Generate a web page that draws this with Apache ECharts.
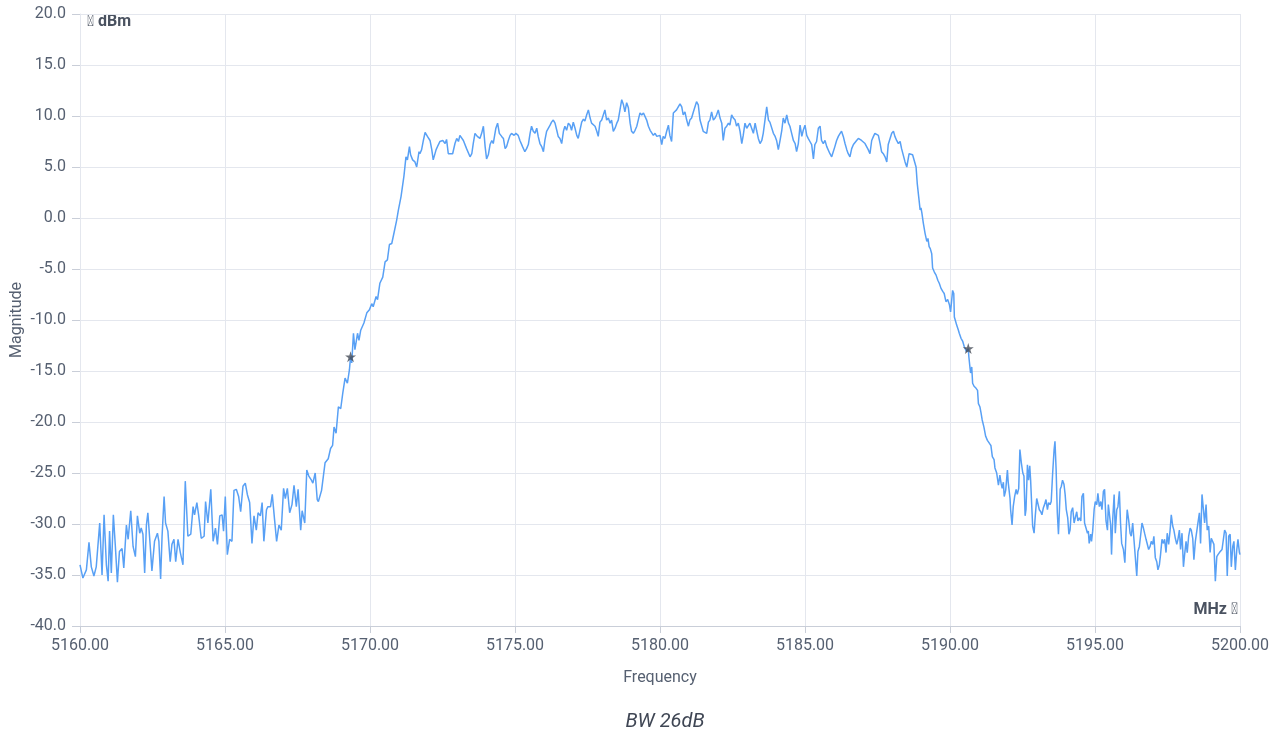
<!DOCTYPE html>
<html>
<head>
<meta charset="utf-8">
<script src="https://cdn.jsdelivr.net/npm/echarts@6/dist/echarts.min.js"></script>
<style>
html,body{margin:0;padding:0;background:#fff;}
#chart{width:1279px;height:733px;}
</style>
</head>
<body>
<div id="chart"></div>
<script>
// Spectrum trace: [frequency MHz, magnitude dBm]
const trace = [
[5160.00,-34.0],[5160.10,-35.3],[5160.22,-34.5],[5160.31,-31.8],[5160.39,-34.2],[5160.48,-35.1],[5160.56,-34.2],[5160.68,-29.9],[5160.76,-35.0],[5160.83,-29.1],
[5160.91,-34.0],[5160.97,-35.6],[5161.02,-30.7],[5161.08,-34.8],[5161.15,-29.1],[5161.22,-32.2],[5161.29,-35.7],[5161.36,-32.7],[5161.45,-32.4],[5161.51,-34.3],
[5161.60,-30.1],[5161.66,-31.5],[5161.75,-28.7],[5161.83,-32.2],[5161.91,-33.2],[5161.98,-29.2],[5162.06,-30.9],[5162.11,-30.4],[5162.17,-31.0],[5162.23,-34.8],
[5162.29,-30.1],[5162.34,-28.9],[5162.43,-32.5],[5162.48,-34.6],[5162.57,-31.7],[5162.67,-30.9],[5162.72,-31.7],[5162.78,-35.4],[5162.83,-31.2],[5162.90,-27.3],
[5162.95,-29.9],[5163.03,-30.7],[5163.11,-33.7],[5163.17,-32.0],[5163.24,-31.5],[5163.30,-33.7],[5163.38,-31.5],[5163.46,-32.8],[5163.55,-34.0],[5163.63,-25.8],
[5163.72,-31.2],[5163.82,-31.0],[5163.90,-28.3],[5163.95,-29.1],[5164.03,-27.9],[5164.09,-29.1],[5164.18,-31.4],[5164.28,-31.2],[5164.33,-27.8],[5164.41,-29.9],
[5164.51,-26.6],[5164.59,-31.7],[5164.67,-30.4],[5164.74,-32.0],[5164.82,-29.2],[5164.90,-29.1],[5164.95,-30.7],[5165.01,-27.3],[5165.08,-33.0],[5165.16,-31.5],
[5165.24,-31.7],[5165.31,-26.7],[5165.39,-26.6],[5165.47,-27.3],[5165.54,-28.8],[5165.62,-26.3],[5165.70,-26.0],[5165.77,-27.1],[5165.85,-27.9],[5165.93,-31.9],
[5166.00,-29.2],[5166.08,-30.6],[5166.14,-28.9],[5166.22,-29.2],[5166.28,-27.9],[5166.34,-31.7],[5166.43,-28.6],[5166.48,-28.3],[5166.57,-28.3],[5166.63,-27.1],
[5166.71,-29.6],[5166.78,-31.7],[5166.86,-30.1],[5166.94,-30.6],[5167.02,-26.5],[5167.08,-27.5],[5167.15,-26.5],[5167.23,-28.9],[5167.31,-28.1],[5167.38,-26.2],
[5167.46,-28.3],[5167.52,-26.6],[5167.61,-30.6],[5167.66,-28.7],[5167.75,-29.9],[5167.82,-24.7],[5167.89,-25.3],[5167.98,-25.7],[5168.03,-26.0],[5168.11,-25.0],
[5168.18,-27.6],
[5168.22,-27.8],[5168.33,-26.7],[5168.45,-24.0],[5168.56,-23.6],[5168.64,-22.6],[5168.71,-22.3],[5168.76,-20.5],[5168.83,-21.1],[5168.91,-18.5],[5168.99,-18.7],
[5169.06,-17.2],[5169.14,-15.7],[5169.22,-16.2],[5169.29,-14.9],[5169.33,-13.6],[5169.37,-14.2],[5169.43,-11.3],[5169.48,-12.9],[5169.57,-11.3],[5169.62,-12.0],
[5169.68,-11.0],[5169.79,-10.3],[5169.89,-9.3],[5169.98,-9.0],[5170.06,-8.4],[5170.11,-8.7],[5170.21,-7.7],[5170.26,-8.0],[5170.34,-6.4],[5170.44,-5.8],
[5170.52,-4.3],[5170.60,-4.1],[5170.67,-2.6],[5170.75,-2.5],[5170.84,-1.3],[5170.92,-0.2],[5170.98,0.8],[5171.07,2.1],[5171.17,4.1],[5171.24,6.0],
[5171.29,5.7],[5171.36,7.0],[5171.40,6.2],[5171.47,5.7],[5171.55,5.5],[5171.61,5.0],[5171.69,6.5],
[5171.72,6.3],[5171.78,6.7],[5171.84,7.6],[5171.90,8.4],[5171.98,8.0],[5172.07,7.6],[5172.13,6.7],[5172.18,5.7],[5172.28,6.7],[5172.36,7.2],
[5172.41,7.5],[5172.51,7.6],[5172.59,7.3],[5172.64,7.7],[5172.70,6.3],[5172.78,6.3],[5172.85,6.3],[5172.93,7.3],[5172.99,7.8],[5173.05,7.5],
[5173.10,8.1],[5173.16,8.1],[5173.22,7.6],[5173.28,7.6],[5173.33,6.8],[5173.39,6.7],[5173.45,6.0],[5173.51,6.3],[5173.56,7.3],[5173.62,8.3],
[5173.70,8.0],[5173.79,7.8],[5173.85,8.3],[5173.91,9.0],[5173.97,7.0],[5174.02,5.8],[5174.08,6.2],[5174.14,7.2],[5174.20,7.6],[5174.25,7.3],
[5174.34,8.8],[5174.40,9.3],[5174.46,8.3],[5174.54,8.0],[5174.60,7.8],[5174.66,6.8],[5174.71,7.0],[5174.77,7.6],[5174.83,8.1],[5174.88,8.3],
[5174.97,8.1],[5175.03,8.3],[5175.11,8.1],[5175.17,7.6],[5175.26,7.0],[5175.34,6.5],[5175.40,6.8],[5175.46,7.2],[5175.52,8.3],[5175.57,9.0],
[5175.63,8.5],[5175.69,8.3],[5175.75,8.8],[5175.80,8.0],[5175.86,7.3],[5175.92,7.0],[5175.98,6.5],[5176.03,7.6],[5176.09,8.5],[5176.15,8.6],
[5176.21,9.1],[5176.26,9.4],[5176.32,9.6],[5176.38,9.3],[5176.44,8.6],[5176.49,8.0],[5176.55,7.8],[5176.61,7.3],[5176.67,8.5],[5176.72,9.0],
[5176.78,8.6],[5176.84,9.3],[5176.90,9.1],[5176.95,8.6],[5177.01,9.4],[5177.07,8.8],[5177.13,8.1],[5177.18,7.8],[5177.24,8.6],[5177.30,9.4],
[5177.36,9.7],[5177.41,9.5],[5177.47,10.1],[5177.53,10.6],[5177.59,9.8],[5177.64,9.3],[5177.70,9.4],[5177.76,9.0],[5177.82,8.5],[5177.87,8.0],
[5177.93,9.4],[5177.99,9.6],[5178.05,9.5],[5178.10,10.6],[5178.16,9.6],[5178.22,9.8],[5178.28,9.3],[5178.33,9.6],[5178.39,8.5],[5178.45,8.8],
[5178.51,9.3],[5178.56,9.6],[5178.62,10.6],[5178.68,11.6],[5178.74,11.1],[5178.79,10.4],[5178.85,11.3],[5178.91,10.8],[5178.97,9.3],[5179.02,8.5],
[5179.08,8.3],[5179.14,8.6],[5179.20,9.0],[5179.25,9.6],[5179.31,10.3],[5179.37,10.1],[5179.43,10.3],[5179.48,10.4],[5179.54,9.6],[5179.60,9.0],
[5179.66,8.6],[5179.71,8.5],[5179.77,8.1],[5179.83,8.3],[5179.89,8.0],[5179.94,8.1],
[5180.00,8.1],[5180.06,7.2],[5180.11,8.0],[5180.17,7.8],[5180.23,8.5],[5180.29,9.1],[5180.34,8.1],[5180.40,7.5],[5180.46,10.3],[5180.52,10.4],
[5180.57,10.6],[5180.63,10.9],[5180.69,11.2],[5180.75,10.9],[5180.80,10.1],[5180.86,10.4],[5180.92,9.6],[5180.98,9.0],[5181.03,9.6],[5181.09,9.8],
[5181.15,10.4],[5181.21,10.3],[5181.26,11.4],[5181.32,11.1],[5181.38,9.6],[5181.44,9.6],[5181.49,8.5],[5181.55,8.6],[5181.61,8.3],[5181.67,9.4],
[5181.72,9.6],[5181.78,10.4],[5181.84,9.6],[5181.90,9.8],[5181.95,10.1],[5182.01,10.6],[5182.07,9.8],[5182.13,9.3],[5182.18,7.6],[5182.24,8.8],
[5182.30,9.0],[5182.36,9.3],[5182.41,9.1],[5182.47,10.1],[5182.53,9.8],[5182.59,9.6],[5182.64,9.0],[5182.70,9.3],[5182.76,8.5],[5182.82,7.3],
[5182.87,8.1],[5182.93,9.3],[5182.99,8.8],[5183.05,8.8],[5183.10,9.3],[5183.16,9.4],[5183.22,8.3],[5183.28,9.3],[5183.33,8.6],[5183.39,7.8],
[5183.45,7.3],[5183.51,7.6],[5183.56,8.3],[5183.62,9.6],[5183.68,10.9],[5183.74,9.6],[5183.79,9.4],[5183.85,9.3],[5183.91,8.3],[5183.97,8.0],
[5184.02,7.6],[5184.08,6.7],[5184.14,7.6],[5184.20,8.6],[5184.25,9.8],[5184.31,9.3],[5184.37,10.1],[5184.43,9.3],[5184.48,9.0],[5184.54,8.3],
[5184.60,7.6],[5184.66,7.3],[5184.71,6.5],[5184.77,7.3],[5184.83,9.1],[5184.89,8.0],[5184.94,8.6],[5185.00,9.1],[5185.06,8.1],[5185.11,7.8],
[5185.17,7.5],[5185.23,7.2],[5185.29,5.8],[5185.34,7.2],[5185.40,7.5],[5185.46,8.8],[5185.52,9.0],[5185.57,7.6],[5185.63,7.3],[5185.69,7.6],
[5185.75,7.0],[5185.80,7.0],[5185.86,6.3],[5185.92,6.0],[5185.98,6.0],[5186.03,7.0],[5186.09,7.6],[5186.15,8.0],[5186.21,8.3],[5186.26,8.5],
[5186.32,8.0],[5186.38,7.3],[5186.44,6.7],[5186.49,6.3],[5186.55,6.0],[5186.61,6.8],[5186.67,7.2],[5186.72,7.3],[5186.78,7.6],[5186.84,7.8],
[5186.90,7.8],[5186.95,7.6],[5187.01,7.6],[5187.07,7.3],[5187.13,7.3],[5187.18,6.7],[5187.24,6.3],[5187.30,7.6],[5187.36,8.0],[5187.41,8.3],
[5187.47,8.3],[5187.53,8.1],[5187.59,7.3],[5187.64,6.5],[5187.70,6.3],[5187.76,6.0],[5187.82,5.5],[5187.87,7.2],[5187.93,7.3],[5187.99,8.3],
[5188.05,8.5],[5188.10,8.0],[5188.16,7.6],[5188.22,7.3],[5188.28,7.5],[5188.33,6.8],
[5188.45,5.5],[5188.51,5.0],[5188.59,6.3],[5188.71,6.2],[5188.77,6.3],[5188.83,5.0],[5188.87,3.4],[5188.92,2.1],[5188.97,0.8],[5189.00,1.0],
[5189.03,0.5],[5189.08,-0.5],[5189.14,-1.5],[5189.20,-2.3],[5189.24,-2.0],[5189.28,-2.8],[5189.32,-3.0],[5189.37,-3.5],[5189.40,-4.9],[5189.46,-5.3],
[5189.52,-5.6],[5189.58,-6.1],[5189.63,-6.4],[5189.69,-6.9],[5189.75,-7.2],[5189.80,-7.4],[5189.86,-8.2],[5189.92,-8.0],[5189.98,-8.5],[5190.02,-9.2],
[5190.06,-8.0],[5190.09,-7.1],[5190.13,-7.4],[5190.15,-9.7],[5190.20,-10.2],[5190.23,-10.5],[5190.29,-11.0],[5190.32,-11.3],[5190.38,-11.8],[5190.44,-12.1],
[5190.49,-12.6],[5190.57,-13.1],[5190.63,-12.8],[5190.65,-13.6],[5190.69,-14.7],[5190.71,-15.2],[5190.75,-14.6],[5190.78,-16.2],[5190.83,-16.5],[5190.90,-16.7],
[5190.95,-16.9],[5190.98,-18.2],[5191.03,-18.5],[5191.07,-19.1],[5191.11,-19.8],[5191.17,-20.5],[5191.23,-21.4],[5191.29,-21.8],[5191.36,-22.1],[5191.41,-22.3],
[5191.46,-23.4],[5191.52,-23.7],[5191.55,-24.5],[5191.61,-25.0],[5191.67,-26.2],[5191.72,-25.2],[5191.76,-26.0],[5191.80,-26.5],[5191.84,-25.9],[5191.87,-27.3],
[5191.92,-26.7],[5191.95,-25.7],[5191.98,-24.7],[5192.01,-26.0],[5192.07,-27.5],
[5192.09,-28.6],[5192.14,-30.1],[5192.18,-28.3],[5192.23,-27.3],[5192.28,-26.6],[5192.32,-27.1],[5192.37,-26.5],[5192.41,-22.7],[5192.46,-24.0],[5192.51,-25.0],
[5192.55,-25.3],[5192.59,-29.2],[5192.62,-28.6],[5192.67,-24.2],[5192.71,-25.7],[5192.75,-24.3],[5192.78,-25.7],[5192.82,-28.3],[5192.85,-30.2],[5192.90,-30.9],
[5192.94,-29.2],[5192.99,-27.5],[5193.03,-27.6],[5193.08,-28.6],[5193.13,-28.8],[5193.17,-29.1],[5193.22,-28.4],[5193.26,-28.1],[5193.31,-27.6],[5193.36,-28.6],
[5193.40,-27.9],[5193.45,-28.1],[5193.49,-27.8],[5193.54,-25.0],[5193.59,-22.7],[5193.62,-21.9],[5193.66,-24.7],[5193.70,-28.9],[5193.74,-31.0],[5193.77,-28.9],
[5193.80,-26.6],[5193.84,-26.3],[5193.88,-25.7],[5193.93,-26.1],[5193.97,-27.1],[5194.01,-28.6],[5194.06,-29.4],[5194.10,-31.0],[5194.14,-30.6],[5194.18,-28.8],
[5194.23,-28.4],[5194.28,-29.9],[5194.32,-29.4],[5194.37,-28.8],[5194.41,-29.7],[5194.46,-29.4],[5194.51,-29.7],[5194.55,-27.3],[5194.60,-27.0],[5194.64,-29.9],
[5194.69,-30.4],[5194.74,-30.9],[5194.77,-30.7],[5194.80,-31.9],[5194.85,-31.0],[5194.88,-31.7],[5194.92,-30.7],[5194.97,-28.6],[5195.01,-27.8],[5195.06,-28.1],
[5195.10,-27.0],[5195.15,-28.3],[5195.20,-27.8],[5195.24,-28.6],[5195.29,-26.8],[5195.33,-26.6],[5195.38,-29.7],[5195.43,-30.6],[5195.46,-28.1],[5195.49,-28.1],
[5195.54,-30.1],[5195.57,-33.0],[5195.61,-29.6],[5195.66,-27.1],[5195.70,-30.9],[5195.75,-28.6],[5195.79,-28.3],[5195.84,-26.8],[5195.88,-29.9],[5195.92,-31.9],
[5195.98,-32.5],[5196.03,-33.8],[5196.07,-30.9],[5196.11,-28.6],[5196.16,-29.6],[5196.21,-30.9],[5196.25,-31.2],[5196.30,-29.9],[5196.34,-31.4],[5196.39,-31.5],
[5196.44,-35.1],[5196.48,-32.7],[5196.53,-32.2],[5196.57,-31.2],[5196.62,-29.9],[5196.67,-30.4],[5196.71,-30.9],[5196.76,-31.5],[5196.80,-31.5],[5196.85,-32.5],
[5196.90,-32.2],[5196.94,-31.7],[5196.99,-32.0],[5197.03,-31.2],[5197.08,-33.3],[5197.13,-33.7],[5197.17,-34.5],[5197.22,-34.0],[5197.26,-33.0],[5197.31,-31.5],
[5197.36,-31.9],[5197.40,-31.5],[5197.45,-32.8],[5197.49,-30.9],[5197.54,-32.0],[5197.59,-30.6],[5197.63,-29.1],[5197.68,-30.2],[5197.72,-30.6],[5197.77,-31.4],
[5197.82,-32.0],[5197.86,-31.5],[5197.91,-30.6],[5197.95,-32.5],[5198.00,-30.9],[5198.05,-34.2],[5198.09,-33.0],[5198.14,-31.7],[5198.18,-32.8],[5198.23,-31.2],
[5198.28,-30.4],[5198.32,-30.6],[5198.37,-31.4],[5198.41,-33.5],[5198.46,-31.7],[5198.51,-30.7],[5198.55,-29.9],[5198.60,-28.9],[5198.64,-31.9],[5198.69,-27.1],
[5198.74,-28.6],[5198.78,-29.9],[5198.83,-28.1],[5198.87,-30.6],[5198.92,-30.2],[5198.97,-32.8],[5199.01,-31.4],[5199.06,-31.4],[5199.10,-32.0],[5199.15,-35.6],
[5199.20,-33.2],[5199.24,-33.0],[5199.29,-32.8],[5199.33,-32.7],[5199.38,-32.5],[5199.43,-32.5],[5199.47,-30.6],[5199.52,-30.9],[5199.56,-35.1],[5199.61,-31.2],
[5199.66,-31.0],[5199.70,-34.2],[5199.75,-32.2],[5199.79,-31.7],[5199.84,-34.5],[5199.89,-32.5],[5199.93,-31.5],[5199.98,-32.8],[5200.00,-33.0]
];

// -26 dB bandwidth markers
const markerFreqs = [5169.33, 5190.63];
const markerMags = [-13.6, -12.8];

const xTicks = { min: 5160, max: 5200, interval: 5 };
const yTicks = { min: -40, max: 20, interval: 5 };

const chartTitle = 'BW 26dB';
const xTitle = 'Frequency';
const yTitle = 'Magnitude';
const xUnit = 'MHz \uE5C8';
const yUnit = '\uE5D8 dBm';

const textColor = '#566071';
const chart = echarts.init(document.getElementById('chart'), null, { renderer: 'canvas' });
const starPath = 'path://M50,0 L61.2,34.5 L97.6,34.5 L68.2,55.9 L79.4,90.5 L50,69.1 L20.6,90.5 L31.8,55.9 L2.4,34.5 L38.8,34.5 Z';

chart.setOption({
  animation: false,
  textStyle: { fontFamily: 'Roboto, sans-serif' },
  title: {
    text: chartTitle,
    left: 660,
    top: 707,
    textAlign: 'center',
    textStyle: { fontSize: 20, fontStyle: 'italic', fontWeight: 'normal', color: '#3f4654', fontFamily: 'Roboto, sans-serif' }
  },
  grid: { left: 80, right: 39, top: 14, bottom: 107, containLabel: false, outerBoundsMode: 'none' },
  xAxis: {
    type: 'value',
    min: xTicks.min, max: xTicks.max, interval: xTicks.interval,
    name: xTitle,
    nameLocation: 'middle',
    nameGap: 44,
    nameMoveOverlap: false,
    nameTextStyle: { color: textColor, fontSize: 16 },
    axisLine: { show: true, onZero: false, lineStyle: { color: '#c9ced8' } },
    axisTick: { show: true, length: 7, lineStyle: { color: '#c9ced8' } },
    axisLabel: { color: textColor, fontSize: 16, margin: 12, formatter: v => v.toFixed(2) },
    splitLine: { show: true, lineStyle: { color: '#e4e7ee' } }
  },
  yAxis: {
    type: 'value',
    min: yTicks.min, max: yTicks.max, interval: yTicks.interval,
    name: yTitle,
    nameLocation: 'middle',
    nameGap: 55,
    nameMoveOverlap: false,
    nameRotate: 90,
    nameTextStyle: { color: textColor, fontSize: 16 },
    axisLine: { show: true, onZero: false, lineStyle: { color: '#e4e7ee' } },
    axisTick: { show: true, length: 8, lineStyle: { color: '#c9ced8' } },
    axisLabel: { color: textColor, fontSize: 16, margin: 14, formatter: v => v.toFixed(1) },
    splitLine: { show: true, lineStyle: { color: '#e4e7ee' } }
  },
  graphic: [
    { type: 'text', left: 87, top: 14, style: { text: yUnit, fill: '#4a5260', font: 'bold 16px Roboto, sans-serif' } },
    { type: 'text', right: 41, top: 602, style: { text: xUnit, fill: '#4a5260', font: 'bold 16px Roboto, sans-serif' } }
  ],
  series: [
    {
      type: 'line',
      data: trace,
      showSymbol: false,
      symbol: 'none',
      lineStyle: { color: '#58a0f5', width: 1.5 },
      z: 2
    },
    {
      type: 'scatter',
      data: markerFreqs.map((f, i) => [f, markerMags[i]]),
      symbol: starPath,
      symbolSize: 11,
      itemStyle: { color: '#454b56' },
      z: 3
    }
  ]
});
</script>
</body>
</html>
